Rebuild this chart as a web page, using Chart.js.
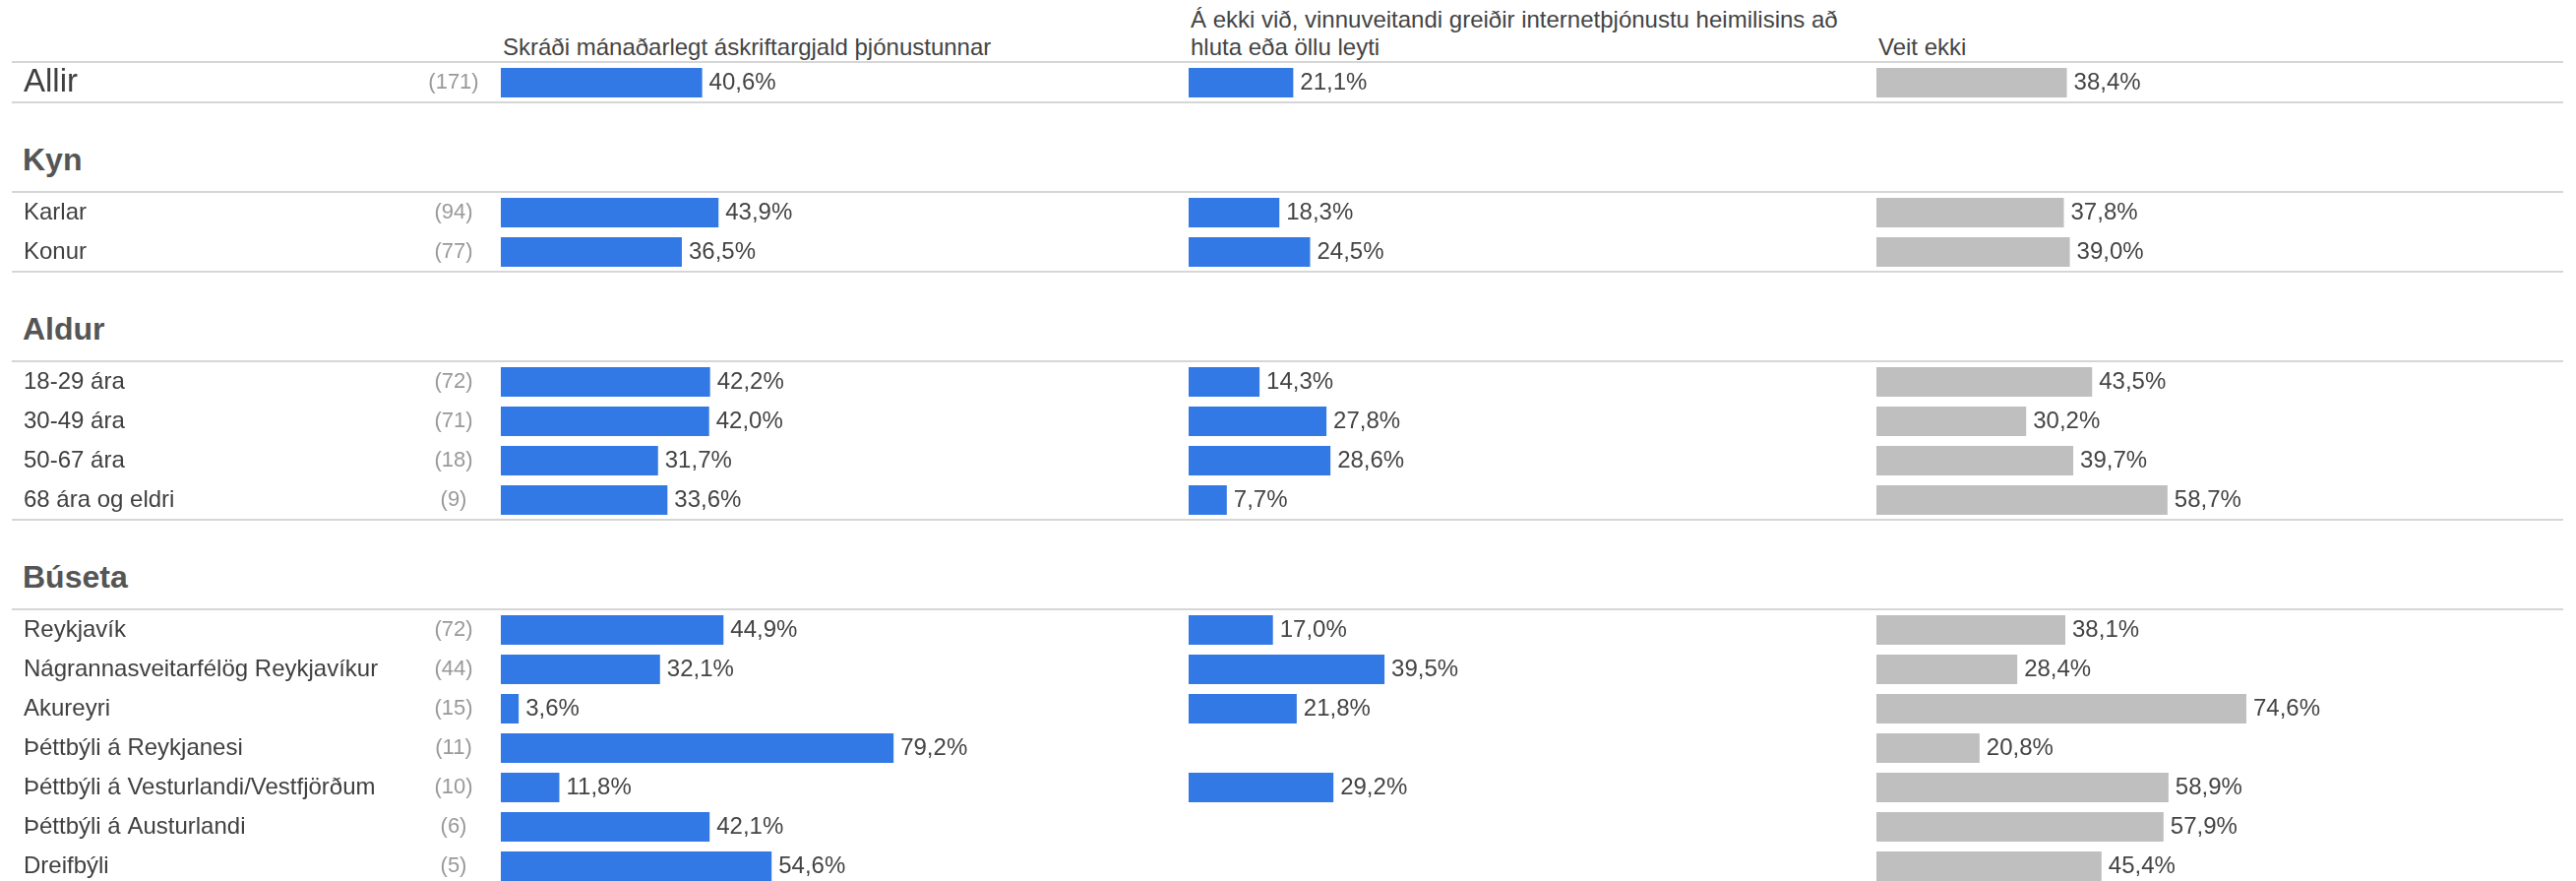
<!DOCTYPE html>
<html lang="is">
<head>
<meta charset="utf-8">
<title>Internetþjónusta heimilisins</title>
<script src="https://cdn.jsdelivr.net/npm/chart.js@4"></script>
<style>
  html, body { margin: 0; padding: 0; background: #fff; }
  body {
    width: 2618px; height: 895px; overflow: hidden; position: relative;
    font-family: 'Liberation Sans', Arial, sans-serif; color: #444;
  }
  .colhead {
    position: absolute; top: 6px; height: 56px;
    display: flex; flex-direction: column; justify-content: flex-end;
    font-size: 24px; line-height: 28px; white-space: nowrap; color: #444;
  }
  .grouphead {
    position: absolute; left: 23px;
    font-size: 32px; line-height: 32px; font-weight: bold; color: #555;
  }
  .section { position: absolute; left: 0; width: 2618px; }
</style>
</head>
<body>
<script>
// --- data ---
const seriesNames = [
    'Skráði mánaðarlegt áskriftargjald þjónustunnar',
    'Á ekki við, vinnuveitandi greiðir internetþjónustu heimilisins að\nhluta eða öllu leyti',
    'Veit ekki'
];
const groupNames = [null, 'Kyn', 'Aldur', 'Búseta'];
const rowLabels = [
    'Allir',
    'Karlar', 'Konur',
    '18-29 ára', '30-49 ára', '50-67 ára', '68 ára og eldri',
    'Reykjavík', 'Nágrannasveitarfélög Reykjavíkur', 'Akureyri', 'Þéttbýli á Reykjanesi',
    'Þéttbýli á Vesturlandi/Vestfjörðum', 'Þéttbýli á Austurlandi', 'Dreifbýli'
];
const rowGroup = [0, 1, 1, 2, 2, 2, 2, 3, 3, 3, 3, 3, 3, 3];
const counts = [171, 94, 77, 72, 71, 18, 9, 72, 44, 15, 11, 10, 6, 5];
const skradi = [40.6, 43.9, 36.5, 42.2, 42.0, 31.7, 33.6, 44.9, 32.1, 3.6, 79.2, 11.8, 42.1, 54.6];
const vinnuveitandi = [21.1, 18.3, 24.5, 14.3, 27.8, 28.6, 7.7, 17.0, 39.5, 21.8, null, 29.2, null, null];
const veitEkki = [38.4, 37.8, 39.0, 43.5, 30.2, 39.7, 58.7, 38.1, 28.4, 74.6, 20.8, 58.9, 57.9, 45.4];

const seriesValues = [skradi, vinnuveitandi, veitEkki];
const seriesColors = ['#3279e5', '#3279e5', '#bfbfbf'];

// --- layout ---
const PLOT_LEFT = 509;        // where the first column of bars starts
const PLOT_RIGHT_PAD = 8;
const PX_PER_PCT = 5.04;
const COL_STEP = 699;         // px between column starts
const ROW_H = 40;
const FIRST_LINE = 63;
const GROUP_GAP = 92;

const fontFamily = "'Liberation Sans', Arial, sans-serif";
Chart.defaults.font.family = fontFamily;

function fmt(v) {
    return v.toFixed(1).replace('.', ',') + '%';
}

const colOffsets = [0, 1, 2].map(k => k * COL_STEP / PX_PER_PCT);
const xMax = (2618 - PLOT_RIGHT_PAD - PLOT_LEFT) / PX_PER_PCT;

// column headers
seriesNames.forEach((name, k) => {
    const div = document.createElement('div');
    div.className = 'colhead';
    div.style.left = (PLOT_LEFT + k * COL_STEP + 2) + 'px';
    name.split('\n').forEach(line => {
        const s = document.createElement('div');
        s.textContent = line;
        div.appendChild(s);
    });
    document.body.appendChild(div);
});

// draws separator lines, counts and value labels
function rowDecor(rowCounts) {
    return {
        id: 'rowDecor',
        afterDatasetsDraw(chart) {
            const { ctx, chartArea } = chart;
            const yScale = chart.scales.y;
            ctx.save();
            ctx.fillStyle = '#d6d6d6';
            ctx.fillRect(12, chartArea.top - 2, 2593, 2);
            ctx.fillRect(12, chartArea.bottom - 1, 2593, 2);

            ctx.textBaseline = 'middle';
            ctx.font = '22px ' + fontFamily;
            ctx.fillStyle = '#999';
            ctx.textAlign = 'center';
            rowCounts.forEach((n, i) => {
                ctx.fillText('(' + n + ')', chartArea.left - 48, yScale.getPixelForValue(i));
            });

            ctx.font = '24px ' + fontFamily;
            ctx.fillStyle = '#444';
            ctx.textAlign = 'left';
            chart.data.datasets.forEach((ds, d) => {
                const meta = chart.getDatasetMeta(d);
                ds.values.forEach((v, i) => {
                    if (v == null) return;
                    const bar = meta.data[i];
                    ctx.fillText(fmt(v), bar.x + 7, bar.y);
                });
            });
            ctx.restore();
        }
    };
}

let lineY = FIRST_LINE;
groupNames.forEach((groupName, g) => {
    const idx = rowLabels.map((_, i) => i).filter(i => rowGroup[i] === g);
    const n = idx.length;

    if (groupName) {
        const h = document.createElement('div');
        h.className = 'grouphead';
        h.style.top = (lineY - 49) + 'px';
        h.textContent = groupName;
        document.body.appendChild(h);
    }

    const wrap = document.createElement('div');
    wrap.className = 'section';
    wrap.style.top = (lineY - 1) + 'px';
    wrap.style.height = (n * ROW_H + 4) + 'px';
    const canvas = document.createElement('canvas');
    wrap.appendChild(canvas);
    document.body.appendChild(wrap);

    const datasets = seriesValues.map((vals, k) => {
        const sub = idx.map(i => vals[i]);
        return {
            label: seriesNames[k],
            values: sub,
            data: sub.map(v => v == null ? null : [colOffsets[k], colOffsets[k] + v]),
            backgroundColor: seriesColors[k],
            borderWidth: 0,
            grouped: false,
            categoryPercentage: 1,
            barPercentage: 0.75
        };
    });

    new Chart(canvas.getContext('2d'), {
        type: 'bar',
        data: {
            labels: idx.map(i => rowLabels[i]),
            datasets: datasets
        },
        options: {
            indexAxis: 'y',
            responsive: true,
            maintainAspectRatio: false,
            animation: false,
            layout: { padding: { left: 24, right: PLOT_RIGHT_PAD, top: 2, bottom: 2 } },
            plugins: { legend: { display: false }, tooltip: { enabled: false } },
            scales: {
                x: { type: 'linear', min: 0, max: xMax, display: false },
                y: {
                    grid: { display: false },
                    border: { display: false },
                    afterFit: function(scale) {
                        // fixed label column, no extra space for half labels
                        scale.width = PLOT_LEFT - 24;
                        scale.paddingTop = 0;
                        scale.paddingBottom = 0;
                    },
                    ticks: {
                        crossAlign: 'far',
                        autoSkip: false,
                        color: '#404040',
                        font: { size: g === 0 ? 33 : 24 }
                    }
                }
            }
        },
        plugins: [rowDecor(idx.map(i => counts[i]))]
    });

    lineY += n * ROW_H + GROUP_GAP;
});
</script>
</body>
</html>
